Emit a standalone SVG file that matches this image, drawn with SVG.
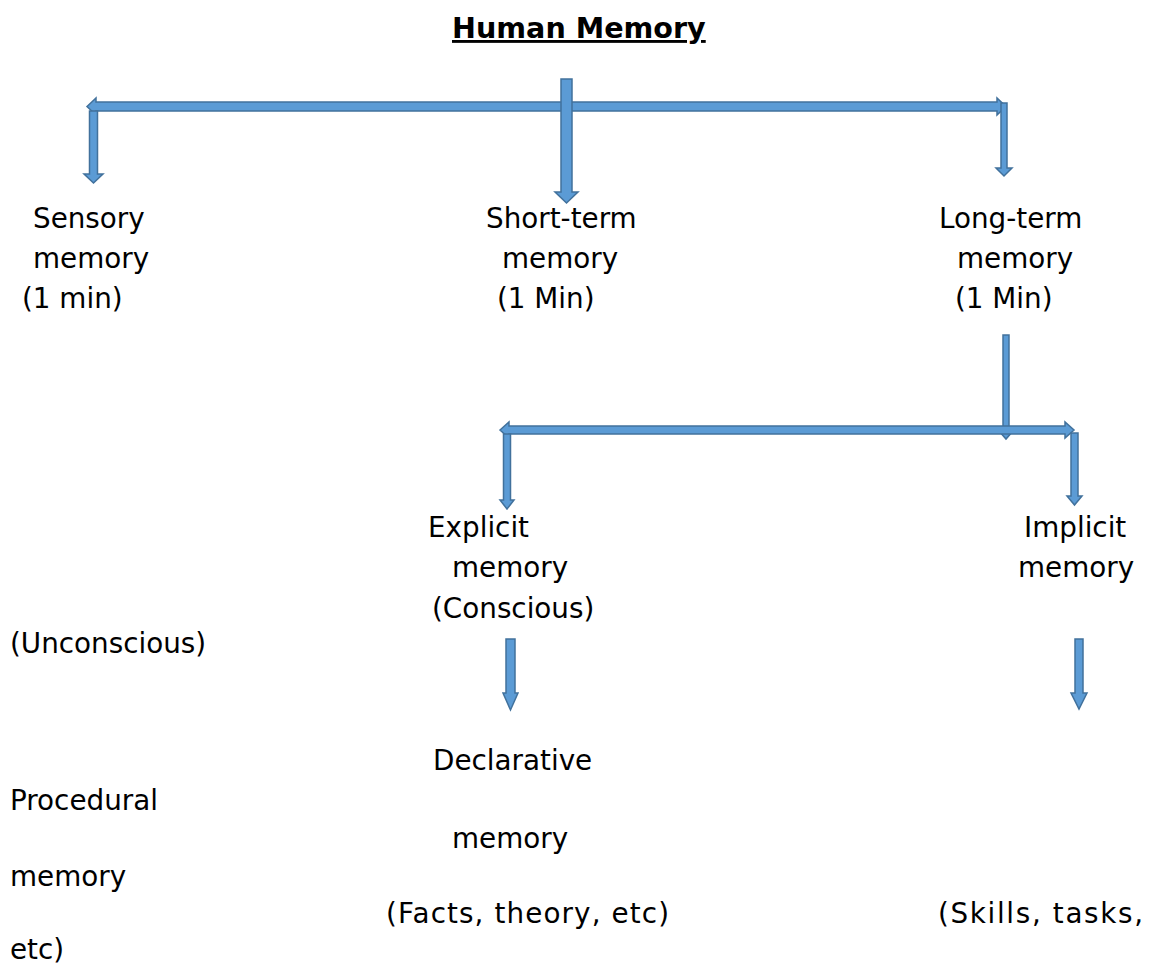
<svg xmlns="http://www.w3.org/2000/svg" width="1154" height="969" viewBox="0 0 1154 969">
<style>
.t{font-family:"DejaVu Sans","Verdana",sans-serif;font-size:27.8px;fill:#000}
.title{font-family:"DejaVu Sans","Verdana",sans-serif;font-size:28.6px;font-weight:bold;fill:#000;text-decoration:underline}
.a{fill:#5B9BD5;stroke:#41719C;stroke-width:1.5;stroke-linejoin:miter}
</style>
<rect width="1154" height="969" fill="#fff"/>
<g id="connectors">
<path class="a" d="M87,106.5 L96,98 L96,102 L997,102 L997,98 L1006,106.5 L997,115 L997,111 L96,111 L96,115 Z"/>
<path class="a" d="M89.5,111 L97.5,111 L97.5,174 L103,174 L93.5,183 L84,174 L89.5,174 Z"/>
<path class="a" d="M561,79 L572,79 L572,192 L578,192 L566.5,203 L555,192 L561,192 Z"/>
<path class="a" d="M1001,103 L1007,103 L1007,168 L1012,168 L1004,176 L996,168 L1001,168 Z"/>
<path class="a" d="M1003,335 L1009,335 L1009,431 L1013,431 L1006,439 L999,431 L1003,431 Z"/>
<path class="a" d="M500,430 L509,422 L509,426 L1065,426 L1065,422 L1074,430 L1065,438 L1065,434 L509,434 L509,438 Z"/>
<path class="a" d="M503.5,434 L510.5,434 L510.5,500 L514,500 L507,509 L500,500 L503.5,500 Z"/>
<path class="a" d="M1071,433 L1078,433 L1078,496 L1082,496 L1074.5,505 L1067,496 L1071,496 Z"/>
<path class="a" d="M506,639 L515,639 L515,693 L518,693 L510.5,710 L503,693 L506,693 Z"/>
<path class="a" d="M1075,639 L1083,639 L1083,693 L1087,693 L1079,709 L1071,693 L1075,693 Z"/>
</g>
<g id="title"><text class="title" x="452" y="38">Human Memory</text></g>
<g id="sensory"><text class="t" x="33" y="228">Sensory</text><text class="t" x="33" y="268">memory</text><text class="t" x="22" y="308">(1 min)</text></g>
<g id="short-term"><text class="t" x="486" y="228">Short-term</text><text class="t" x="502" y="268">memory</text><text class="t" x="497" y="308">(1 Min)</text></g>
<g id="long-term"><text class="t" x="939" y="228">Long-term</text><text class="t" x="957" y="268">memory</text><text class="t" x="955" y="308">(1 Min)</text></g>
<g id="explicit"><text class="t" x="428" y="537">Explicit</text><text class="t" x="452" y="577">memory</text><text class="t" x="432" y="618">(Conscious)</text></g>
<g id="implicit"><text class="t" x="1024" y="537">Implicit</text><text class="t" x="1018" y="577">memory</text><text class="t" x="10" y="653">(Unconscious)</text></g>
<g id="declarative"><text class="t" x="433" y="770">Declarative</text><text class="t" x="452" y="848">memory</text><text class="t" x="386" y="923" textLength="283" lengthAdjust="spacing">(Facts, theory, etc)</text></g>
<g id="procedural"><text class="t" x="10" y="810">Procedural</text><text class="t" x="10" y="886">memory</text><text class="t" x="938" y="923" textLength="205" lengthAdjust="spacing">(Skills, tasks,</text><text class="t" x="10" y="959">etc)</text></g>
</svg>
